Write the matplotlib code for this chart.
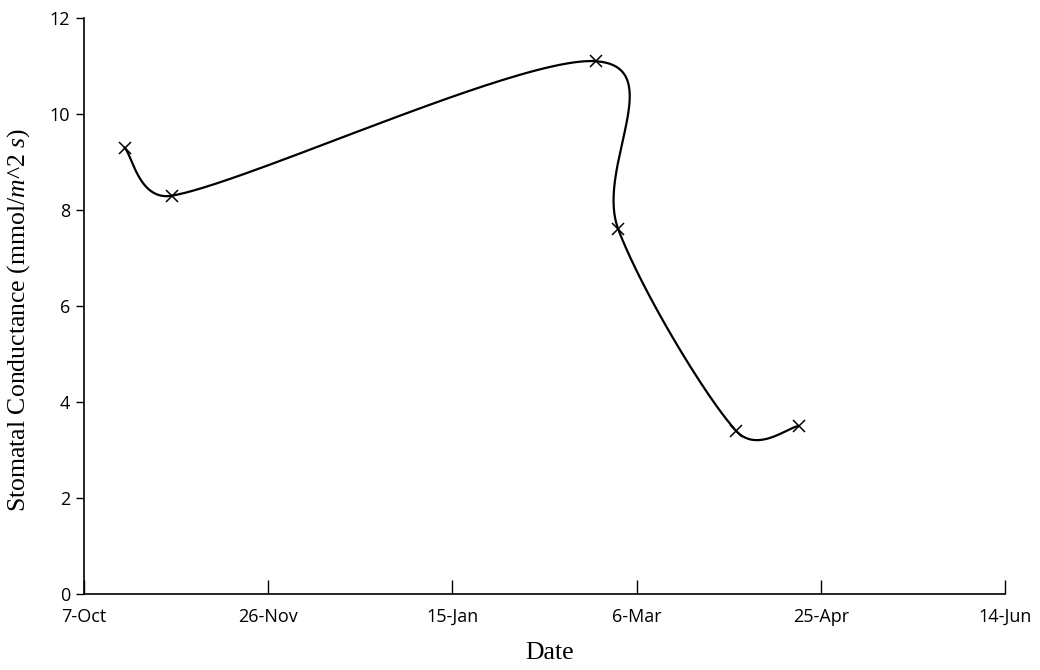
"""Stomatal conductance over the season, smoothed Excel-style line."""

import matplotlib
matplotlib.use("Agg")
import matplotlib.pyplot as plt
import matplotlib.dates as mdates
import numpy as np

dates = ["2014-10-18", "2014-10-31", "2015-02-23", "2015-03-01", "2015-04-02", "2015-04-19"]
conductance = [9.3, 8.3, 11.1, 7.6, 3.4, 3.5]

tick_dates = ["2014-10-07", "2014-11-26", "2015-01-15", "2015-03-06", "2015-04-25", "2015-06-14"]
y_ticks = [0, 2, 4, 6, 8, 10, 12]


def smooth_curve(ax, x, y, n=80):
    """Excel-like smoothed line, built in screen space.

    Control points follow the neighbours (tension 1/6) but are kept within
    half of the segment length, the way Excel limits them.
    """
    trans = ax.transData
    pts = trans.transform(np.column_stack([x, y]))
    out = []
    last = len(pts) - 1
    for i in range(last):
        p0 = pts[max(i - 1, 0)]
        p1 = pts[i]
        p2 = pts[i + 1]
        p3 = pts[min(i + 2, last)]
        d12 = np.hypot(*(p2 - p1))
        d02 = np.hypot(*(p2 - p0))
        d13 = np.hypot(*(p3 - p1))
        f = 1 / 6 if d02 / 6 < d12 / 2 else d12 / (2 * d02)
        g = 1 / 6 if d13 / 6 < d12 / 2 else d12 / (2 * d13)
        c1 = p1 + f * (p2 - p0)
        c2 = p2 - g * (p3 - p1)
        t = np.linspace(0, 1, n)[:, None]
        seg = (1 - t) ** 3 * p1 + 3 * (1 - t) ** 2 * t * c1 + 3 * (1 - t) * t ** 2 * c2 + t ** 3 * p2
        out.append(seg)
    curve = trans.inverted().transform(np.vstack(out))
    return curve[:, 0], curve[:, 1]


def main():
    plt.rcParams["mathtext.fontset"] = "custom"
    plt.rcParams["mathtext.rm"] = "Liberation Serif"
    plt.rcParams["mathtext.it"] = "Liberation Serif:italic"

    x = mdates.datestr2num(dates)
    y = np.array(conductance, dtype=float)
    xt = mdates.datestr2num(tick_dates)

    fig = plt.figure(figsize=(10.4, 6.7), dpi=100)
    ax = fig.add_axes([0.0808, 0.1134, 0.8856, 0.8597])
    ax.set_xlim(xt[0], xt[-1])
    ax.set_ylim(0, 12)

    # smoothing needs the final limits, so they are set first
    sx, sy = smooth_curve(ax, x, y)
    ax.plot(sx, sy, color="black", linewidth=1.6, solid_capstyle="round")
    ax.plot(x, y, linestyle="none", marker="x", markersize=9,
            markeredgewidth=1.1, color="black")

    ax.set_xticks(xt)
    ax.set_xticklabels([mdates.num2date(v).strftime("%-d-%b") for v in xt])
    ax.set_yticks(y_ticks)

    for s in ["top", "right"]:
        ax.spines[s].set_visible(False)
    for s in ["left", "bottom"]:
        ax.spines[s].set_linewidth(1.2)

    tick_font = ["Liberation Sans Narrow", "Open Sans", "DejaVu Sans"]
    ax.tick_params(axis="x", direction="in", length=10, width=1.0, pad=10)
    ax.tick_params(axis="y", direction="out", length=6, width=1.0, pad=4)
    for lab in ax.get_xticklabels() + ax.get_yticklabels():
        lab.set_family(tick_font)
        lab.set_fontsize(13)

    ax.set_xlabel("Date", family="Liberation Serif", fontsize=18.5)
    ax.set_ylabel("Stomatal Conductance (mmol/$m$^2 $s$)", family="Liberation Serif",
                  fontsize=18.5)
    ax.xaxis.set_label_coords(0.505, -0.084)
    ax.yaxis.set_label_coords(-0.056, 0.476)

    fig.savefig("out.png", dpi=100, facecolor="white")
    plt.close(fig)


if __name__ == "__main__":
    main()
